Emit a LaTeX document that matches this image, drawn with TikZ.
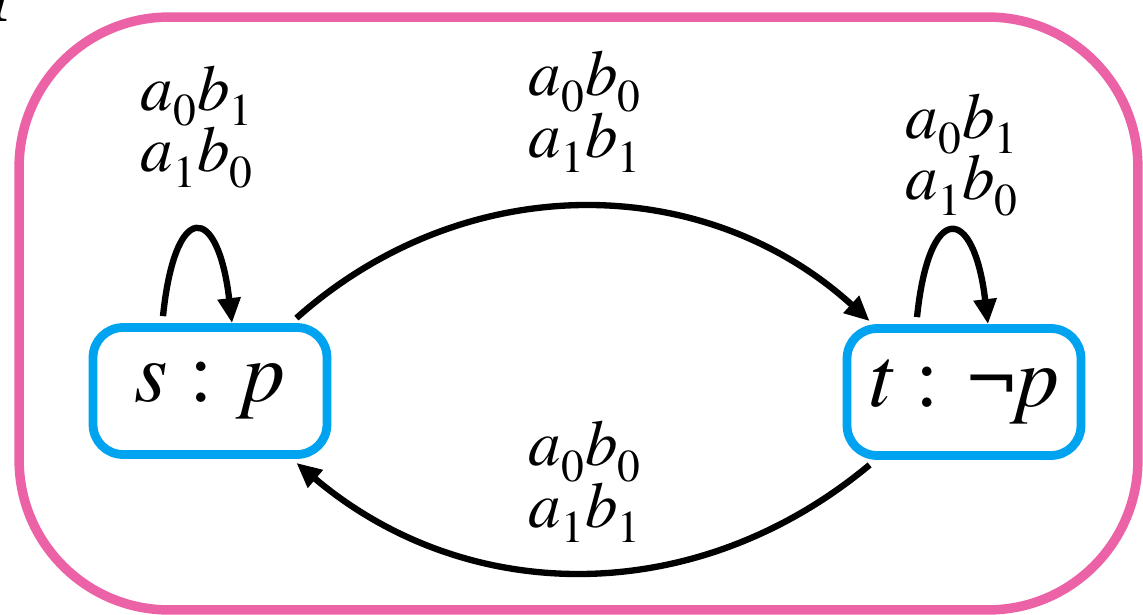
\documentclass[tikz,border=0pt]{standalone}
\usepackage{amsmath}
\usepackage{fontspec}
\setmainfont{texgyretermes}[Extension=.otf, UprightFont=*-regular, ItalicFont=*-italic, BoldFont=*-bold, BoldItalicFont=*-bolditalic]
\usetikzlibrary{arrows.meta}

\definecolor{modelpink}{RGB}{236,98,166}
\definecolor{stateblue}{RGB}{0,163,240}
\newcommand{\ab}[2]{\textit{a}$_{\text{#1}}$\textit{b}$_{\text{#2}}$}

\tikzset{
  frame/.style={draw=modelpink, line width=5.4pt, rounded corners=3cm, minimum width=22.38cm, minimum height=11.86cm},
  state/.style={draw=stateblue, line width=5pt, rounded corners=0.6cm, minimum width=4.68cm, minimum height=2.54cm, font=\fontsize{49}{50}\selectfont},
  trans/.style={line width=3.6pt, -{Triangle[length=0.5cm,width=0.44cm]}},
  lbl/.style={align=center, inner sep=0pt, font=\fontsize{37}{35}\selectfont},
}

\begin{document}
\begin{tikzpicture}[x=0.02cm, y=-0.02cm]
        \useasboundingbox (0,0) rectangle (1143,615);
        \clip (0,0) rectangle (1143,615);

        % model
        \node[inner sep=0pt, anchor=base east, font=\fontsize{48}{50}\selectfont\bfseries\itshape] (name) at (17,22) {M};
        \node[frame] (model) at (578.5,313.5) {};

        % states
        \node[state] (s) at (210,391) {\textit{s} : \textit{p}\hspace{0.5cm}};
        \node[state] (t) at (964,392) {\textit{t} : ¬\textit{p}\hspace{0.5cm}};

        % loops
        \draw[trans] ([xshift=-0.94cm, yshift=0.14cm]s.north) .. controls +(12,-117) and +(-14,-120) .. ([xshift=0.44cm]s.north);
        \draw[trans] ([xshift=-0.94cm, yshift=0.14cm]t.north) .. controls +(12,-117) and +(-14,-120) .. ([xshift=0.48cm]t.north);

        % arcs between s and t
        \draw[trans] ([xshift=-0.7cm, yshift=0.1cm]s.north east) to[bend left=42] ([xshift=0.54cm, yshift=0.06cm]t.north west);
        \draw[trans] ([xshift=0.54cm, yshift=-0.1cm]t.south west) to[bend left=40] ([xshift=-0.7cm, yshift=-0.08cm]s.south east);

        % labels
        \node[lbl] (ss) at (197,127) {\ab01\\\ab10};
        \node[lbl] (st) at (585,112) {\ab00\\\ab11};
        \node[lbl] (tt) at (962,155) {\ab01\\\ab10};
        \node[lbl] (ts) at (585,482) {\ab00\\\ab11};
\end{tikzpicture}
\end{document}
